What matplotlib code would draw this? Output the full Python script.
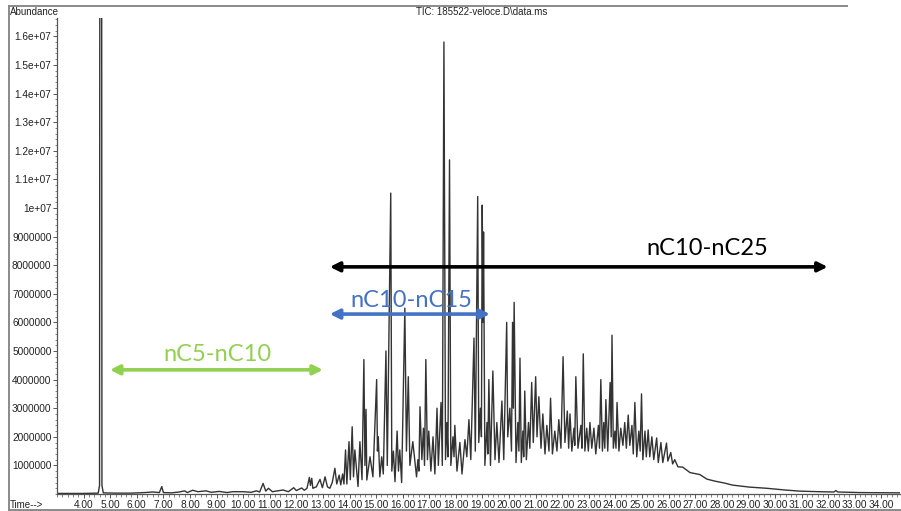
import matplotlib
matplotlib.use("Agg")
from matplotlib import pyplot as plt
from matplotlib.lines import Line2D
from matplotlib.ticker import FixedLocator, MultipleLocator, FuncFormatter

# retention time (min) and abundance (millions of counts)
rt_min = [
    3.00, 4.00, 4.55, 4.60, 4.61, 4.68, 4.69, 4.74, 5.20, 5.80, 6.30, 6.60, 6.85, 6.94, 7.00,
    7.30, 7.60, 7.80, 7.90, 8.10, 8.30, 8.60, 8.80, 9.10, 9.40, 9.60, 10.00, 10.30, 10.50, 10.62,
    10.75, 10.85, 10.95, 11.10, 11.30, 11.50, 11.70, 11.90, 12.00, 12.20, 12.30, 12.40, 12.49, 12.53, 12.58,
    12.62, 12.75, 12.89, 12.98, 13.08, 13.17, 13.26, 13.35, 13.45, 13.52, 13.61, 13.67, 13.74, 13.79, 13.85,
    13.90, 13.98, 14.03, 14.10, 14.15, 14.20, 14.32, 14.39, 14.47, 14.54, 14.58, 14.62, 14.65, 14.77, 14.88,
    15.02, 15.05, 15.08, 15.14, 15.21, 15.27, 15.37, 15.42, 15.55, 15.59, 15.65, 15.71, 15.79, 15.84, 15.89,
    15.96, 16.08, 16.14, 16.21, 16.27, 16.38, 16.52, 16.57, 16.61, 16.65, 16.72, 16.78, 16.82, 16.87, 16.93,
    16.98, 17.06, 17.14, 17.21, 17.29, 17.34, 17.44, 17.49, 17.55, 17.61, 17.66, 17.70, 17.76, 17.81, 17.89,
    17.93, 17.96, 18.04, 18.15, 18.23, 18.34, 18.41, 18.49, 18.56, 18.68, 18.73, 18.82, 18.86, 18.92, 18.96,
    18.99, 19.02, 19.04, 19.09, 19.17, 19.20, 19.24, 19.30, 19.39, 19.47, 19.54, 19.62, 19.73, 19.80, 19.91,
    19.95, 20.03, 20.09, 20.13, 20.16, 20.19, 20.26, 20.33, 20.37, 20.41, 20.46, 20.52, 20.55, 20.59, 20.65,
    20.73, 20.78, 20.85, 20.91, 21.00, 21.05, 21.12, 21.20, 21.27, 21.35, 21.42, 21.50, 21.56, 21.63, 21.72,
    21.80, 21.87, 21.95, 22.03, 22.10, 22.19, 22.24, 22.29, 22.36, 22.44, 22.47, 22.51, 22.59, 22.70, 22.74,
    22.79, 22.85, 22.92, 22.98, 23.04, 23.11, 23.19, 23.26, 23.36, 23.40, 23.45, 23.51, 23.56, 23.60, 23.64,
    23.71, 23.80, 23.84, 23.87, 23.92, 23.98, 24.02, 24.06, 24.13, 24.20, 24.28, 24.35, 24.41, 24.48, 24.54,
    24.62, 24.67, 24.73, 24.80, 24.88, 24.93, 24.98, 25.03, 25.11, 25.16, 25.23, 25.29, 25.37, 25.44, 25.55,
    25.61, 25.71, 25.78, 25.92, 25.97, 26.08, 26.15, 26.23, 26.35, 26.53, 26.80, 27.17, 27.44, 27.74, 28.11,
    28.41, 29.05, 29.69, 30.37, 30.93, 31.68, 32.21, 32.29, 32.36, 33.19, 34.69,
]
abundance_m = [
    0.02, 0.02, 0.03, 0.30, 18.0, 18.0, 0.30, 0.04, 0.03, 0.03, 0.05, 0.07, 0.05, 0.26, 0.05,
    0.04, 0.07, 0.11, 0.05, 0.13, 0.08, 0.11, 0.06, 0.09, 0.05, 0.08, 0.08, 0.06, 0.11, 0.07,
    0.37, 0.10, 0.20, 0.08, 0.11, 0.14, 0.08, 0.22, 0.12, 0.21, 0.13, 0.20, 0.58, 0.30, 0.55,
    0.20, 0.25, 0.51, 0.22, 0.60, 0.25, 0.20, 0.40, 0.90, 0.35, 0.66, 0.32, 0.70, 0.35, 1.54,
    0.35, 1.83, 0.50, 2.35, 0.60, 1.54, 0.26, 1.83, 0.50, 4.70, 1.00, 2.96, 0.49, 1.30, 0.60,
    4.00, 1.50, 2.00, 0.60, 1.30, 0.70, 5.00, 1.00, 10.52, 0.80, 1.50, 0.43, 2.20, 0.80, 1.54,
    0.40, 6.50, 1.50, 4.10, 1.00, 1.83, 0.60, 1.20, 0.80, 3.05, 1.20, 2.30, 1.00, 4.70, 1.20,
    2.20, 0.80, 2.00, 0.70, 3.00, 1.00, 3.20, 1.00, 15.80, 1.20, 2.50, 1.30, 11.68, 1.00, 2.00,
    1.30, 2.40, 0.80, 1.80, 0.70, 1.90, 1.30, 2.60, 1.20, 5.45, 1.50, 10.40, 1.80, 3.00, 2.00,
    10.10, 6.00, 9.16, 1.00, 2.50, 1.40, 4.00, 1.00, 4.30, 1.20, 2.50, 1.10, 3.25, 1.20, 6.00,
    2.00, 3.00, 1.50, 6.00, 3.00, 6.70, 1.10, 2.50, 1.50, 4.75, 1.10, 2.20, 1.30, 3.60, 1.20,
    2.50, 1.60, 3.90, 1.80, 4.10, 2.00, 3.40, 1.60, 2.80, 1.40, 2.40, 1.50, 3.35, 1.40, 2.20,
    1.50, 2.60, 1.60, 4.80, 1.80, 2.90, 1.60, 2.80, 1.50, 2.30, 1.70, 4.10, 1.60, 2.40, 1.60,
    4.90, 1.50, 2.30, 1.50, 2.50, 1.60, 2.30, 1.40, 2.40, 1.60, 4.00, 1.50, 2.50, 1.60, 3.30,
    1.50, 3.90, 2.00, 5.55, 1.60, 2.20, 1.60, 3.20, 1.50, 2.30, 1.70, 2.50, 1.60, 2.76, 1.70,
    2.40, 1.40, 3.20, 1.30, 2.20, 1.50, 3.50, 1.20, 2.20, 1.30, 2.24, 1.30, 2.00, 1.20, 1.96,
    1.10, 1.80, 1.10, 1.78, 1.15, 1.45, 1.05, 1.20, 0.95, 0.94, 0.75, 0.68, 0.52, 0.45, 0.38,
    0.31, 0.24, 0.20, 0.14, 0.10, 0.08, 0.07, 0.12, 0.07, 0.05, 0.04,
]

y_ticks = [1e6 * k for k in range(1, 17)]
x_ticks = list(range(4, 35))


def abundance_label(v, pos):
    if v < 1e7:
        return str(int(v))
    return "%g" % v


W, H = 901, 511
fig = plt.figure(figsize=(W / 100, H / 100), dpi=100)
ax = fig.add_axes([57 / W, 17 / H, (900 - 57) / W, (494 - 18) / H])

ax.plot(rt_min, [a * 1e6 for a in abundance_m], color="#333333", lw=1.0)

ax.set_xlim(3.0, 34.7)
ax.set_ylim(0, 1.664e7)
ax.spines[["top", "right"]].set_visible(False)
for s in ("left", "bottom"):
    ax.spines[s].set_color("#555555")
    ax.spines[s].set_linewidth(0.9)

ax.xaxis.set_major_locator(FixedLocator(x_ticks))
ax.xaxis.set_major_formatter(FuncFormatter(lambda v, p: "%.2f" % v))
ax.xaxis.set_minor_locator(MultipleLocator(0.2))
ax.yaxis.set_major_locator(FixedLocator(y_ticks))
ax.yaxis.set_major_formatter(FuncFormatter(abundance_label))
ax.yaxis.set_minor_locator(MultipleLocator(2e5))
ax.tick_params(which="major", length=3, width=0.7, color="#555555", labelsize=7.3,
               labelcolor="#222222", pad=1)
ax.tick_params(which="minor", length=1.8, width=0.5, color="#555555")
for lab in ax.get_xticklabels() + ax.get_yticklabels():
    lab.set_family("Liberation Sans")

# outer frame of the screenshot
frame_kw = dict(transform=fig.transFigure, color="#8a8a8a", lw=1.4)
fig.add_artist(Line2D([8.5 / W, 8.5 / W], [0, 1 - 6 / H], **frame_kw))
fig.add_artist(Line2D([8.5 / W, 847 / W], [1 - 6 / H, 1 - 6 / H], **frame_kw))
fig.add_artist(Line2D([8.5 / W, 1], [1 / H, 1 / H], **frame_kw))

fig.text(10 / W, 1 - 12 / H, "Abundance", fontsize=7, family="Liberation Sans",
         va="center", ha="left", color="#222222")
fig.text(482 / W, 1 - 12 / H, "TIC: 185522-veloce.D\\data.ms", fontsize=7,
         family="Liberation Sans", va="center", ha="center", color="#222222")
fig.text(10 / W, 1 - 505 / H, "Time-->", fontsize=7, family="Liberation Sans",
         va="center", ha="left", color="#222222")

# carbon-range arrows
arrows = [
    ("nC5-nC10", 4.99, 13.0, 4.34e6, 9.05, 4.86e6, "#92D050"),
    ("nC10-nC15", 13.26, 19.28, 6.29e6, 16.31, 6.78e6, "#4472C4"),
    ("nC10-nC25", 13.26, 31.98, 7.94e6, 27.44, 8.57e6, "#000000"),
]
for label, x0, x1, y, tx, ty, col in arrows:
    ax.annotate("", xy=(x0, y), xytext=(x1, y),
                arrowprops=dict(arrowstyle="<|-|>", color=col, lw=2.6,
                                mutation_scale=14, shrinkA=0, shrinkB=0))
    ax.text(tx, ty, label, color=col, fontsize=17, family="Lato",
            ha="center", va="center")

fig.savefig("out.png", dpi=100)
